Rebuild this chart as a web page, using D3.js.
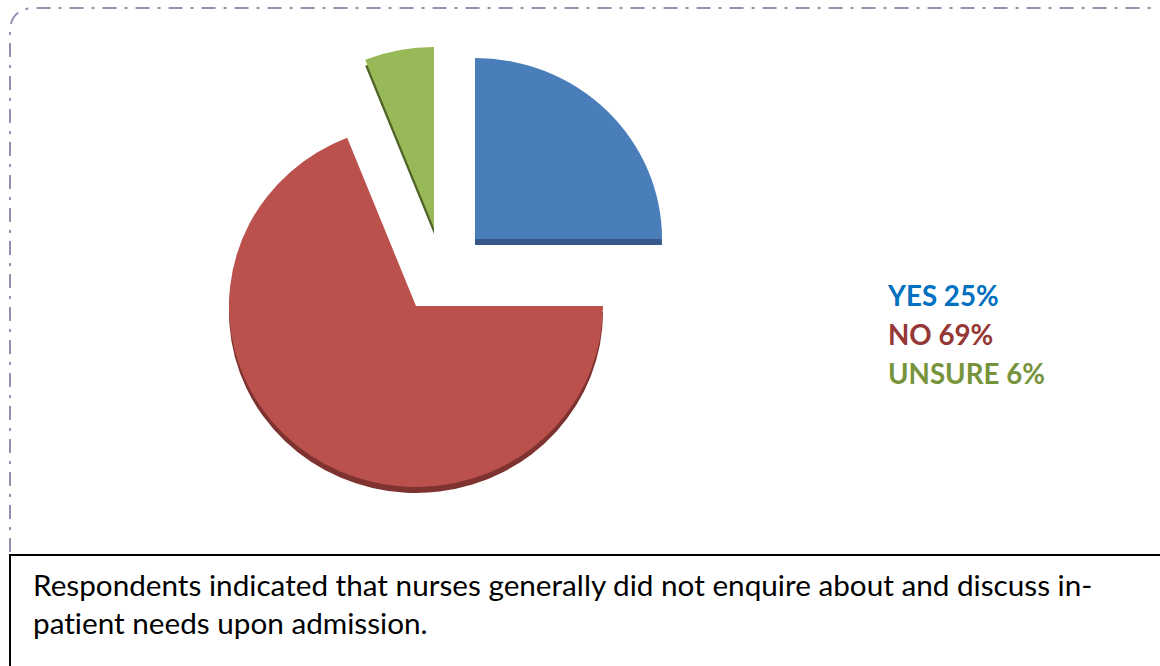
<!DOCTYPE html>
<html>
<head>
<meta charset="utf-8">
<script src="https://cdn.jsdelivr.net/npm/d3@7"></script>
<style>
  html, body { margin: 0; padding: 0; background: #fff; }
  svg { display: block; }
  text { font-variant-ligatures: none; font-feature-settings: "liga" 0; }
</style>
</head>
<body>
<svg id="chart" width="1160" height="666"></svg>
<script>
// Survey answers: did nurses enquire about in-patient needs on admission?
const categories = ["YES", "NO", "UNSURE"];
const values = [25, 69, 6];
const caption = [
  "Respondents indicated that nurses generally did not enquire about and discuss in-",
  "patient needs upon admission."
];

// Styling
const faceColors = ["#4a7ebb", "#bb514d", "#98b957"];
const sideColors = ["#36598a", "#7e3331", "#4f6326"];
const labelColors = ["#0070c0", "#953735", "#77933c"];

// Layout
const W = 1160, H = 666;
const pieCenter = { x: 416, y: 306 };
const rx = 187, ry = 181, depth = 6;
// exploded offsets of each slice from the pie centre
const explode = [{ dx: 59, dy: -67 }, { dx: 0, dy: 0 }, { dx: 18, dy: -78 }];

const svg = d3.select("#chart");

// frame: dash-dot border on top and left
svg.append("path")
  .attr("d", "M10,552 L10,32 Q10,10 32,8 L1150,8 Q1156,8 1157,12")
  .attr("fill", "none")
  .attr("stroke", "#9a8db2")
  .attr("stroke-width", 2)
  .attr("stroke-dasharray", "14,8,3,8");

const data = categories.map((c, i) => ({ cat: c, value: values[i], i }));
const pie = d3.pie().sort(null).value(d => d.value).startAngle(0).endAngle(2 * Math.PI);
const arcs = pie(data);
const arc = d3.arc().innerRadius(0).outerRadius(rx);

const pieG = svg.append("g");

function sliceTransform(d, shift) {
  const o = explode[d.data.i];
  return `translate(${pieCenter.x + o.dx},${pieCenter.y + o.dy + shift}) scale(1,${ry / rx})`;
}

// side walls (drawn first, offset downward)
pieG.selectAll("path.side")
  .data(arcs)
  .join("path")
  .attr("class", "side")
  .attr("transform", d => sliceTransform(d, depth))
  .attr("d", arc)
  .attr("fill", d => sideColors[d.data.i]);

// top faces
pieG.selectAll("path.face")
  .data(arcs)
  .join("path")
  .attr("class", "face")
  .attr("transform", d => sliceTransform(d, 0))
  .attr("d", arc)
  .attr("fill", d => faceColors[d.data.i]);

// labels beside the pie
const legend = svg.append("g").attr("font-family", "Lato, 'Open Sans', sans-serif").attr("font-weight", "bold");
const legendX = 888, legendY0 = 306, legendStep = 39;
const legendText = legend.selectAll("text")
  .data(data)
  .join("text")
  .attr("x", legendX)
  .attr("y", (d, i) => legendY0 + i * legendStep)
  .attr("font-size", 24)
  .attr("fill", d => labelColors[d.i])
  .text(d => `${d.cat} ${d.value}%`);
// size so that the longest label spans ~157px
{
  const node = legendText.nodes()[2];
  const w = node.getComputedTextLength();
  legendText.attr("font-size", 24 * 157 / w);
}

// caption box
svg.append("rect")
  .attr("x", 10).attr("y", 555)
  .attr("width", 1200).attr("height", 200)
  .attr("fill", "#fff")
  .attr("stroke", "#000")
  .attr("stroke-width", 2);

const capText = svg.append("g")
  .attr("font-family", "Lato, 'Open Sans', sans-serif")
  .selectAll("text")
  .data(caption)
  .join("text")
  .attr("x", 33)
  .attr("y", (d, i) => 596 + i * 38)
  .attr("font-size", 24)
  .attr("fill", "#000")
  .text(d => d);
{
  const node = capText.nodes()[0];
  const w = node.getComputedTextLength();
  capText.attr("font-size", 24 * 1060 / w);
}
</script>
</body>
</html>
